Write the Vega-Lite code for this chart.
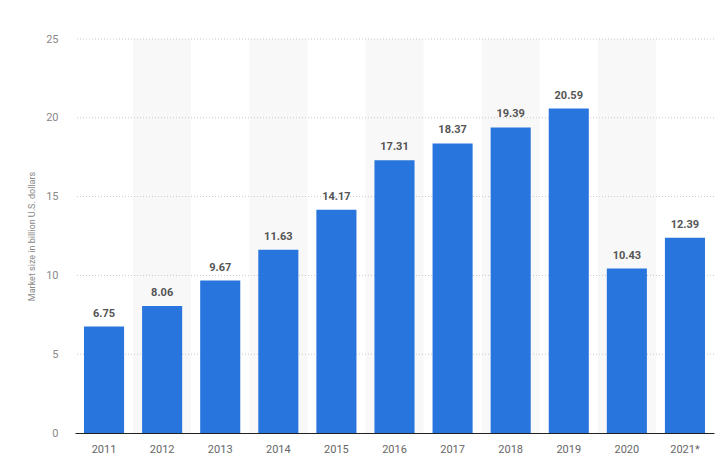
{
  "$schema": "https://vega.github.io/schema/vega-lite/v6.json",
  "autosize": {"type": "none"},
  "padding": {"left": 75, "top": 39, "right": 13, "bottom": 32},
  "width": 639,
  "height": 394,
  "background": "white",
  "config": {"view": {"stroke": null}, "font": "Roboto"},
  "data": {"values": [
    {"year": "2011", "value": 6.75},
    {"year": "2012", "value": 8.06},
    {"year": "2013", "value": 9.67},
    {"year": "2014", "value": 11.63},
    {"year": "2015", "value": 14.17},
    {"year": "2016", "value": 17.31},
    {"year": "2017", "value": 18.37},
    {"year": "2018", "value": 19.39},
    {"year": "2019", "value": 20.59},
    {"year": "2020", "value": 10.43},
    {"year": "2021*", "value": 12.39}
  ]},
  "layer": [
    {
      "transform": [{"filter": {"field": "year", "oneOf": ["2012", "2014", "2016", "2018", "2020"]}}],
      "mark": {"type": "rect", "color": "#f8f8f8"},
      "encoding": {
        "x": {"field": "year", "type": "ordinal",
          "scale": {"domain": ["2011", "2012", "2013", "2014", "2015", "2016", "2017", "2018", "2019", "2020", "2021*"], "paddingInner": 0, "paddingOuter": 0},
          "axis": {"title": null, "labelAngle": 0, "ticks": false, "labelPadding": 10, "labelFontSize": 11, "labelColor": "#666", "domainColor": "#222", "domainWidth": 1.2}},
        "y": {"datum": 0, "type": "quantitative"},
        "y2": {"datum": 25}
      }
    },
    {
      "mark": {"type": "rule", "strokeDash": [1, 2], "color": "#c8c8c8", "strokeWidth": 1},
      "data": {"values": [{"g": 5}, {"g": 10}, {"g": 15}, {"g": 20}, {"g": 25}]},
      "encoding": {
        "y": {"field": "g", "type": "quantitative"}
      }
    },
    {
      "mark": {"type": "bar", "color": "#2876dd", "width": {"band": 0.69}},
      "encoding": {
        "x": {"field": "year", "type": "ordinal"},
        "y": {"field": "value", "type": "quantitative",
          "scale": {"domain": [0, 25], "nice": false},
          "axis": {"values": [0, 5, 10, 15, 20, 25], "grid": false, "domain": false, "ticks": false, "labelPadding": 17, "labelFontSize": 11, "labelColor": "#888",
            "title": "Market size in billion U.S. dollars", "titleFontSize": 9, "titleFontWeight": "normal", "titleColor": "#888", "titlePadding": 9}}
      }
    },
    {
      "mark": {"type": "text", "dy": -8, "fontWeight": "bold", "fontSize": 11, "color": "#555", "baseline": "bottom"},
      "encoding": {
        "x": {"field": "year", "type": "ordinal"},
        "y": {"field": "value", "type": "quantitative"},
        "text": {"field": "value", "type": "quantitative", "format": ".2f"}
      }
    }
  ]
}
